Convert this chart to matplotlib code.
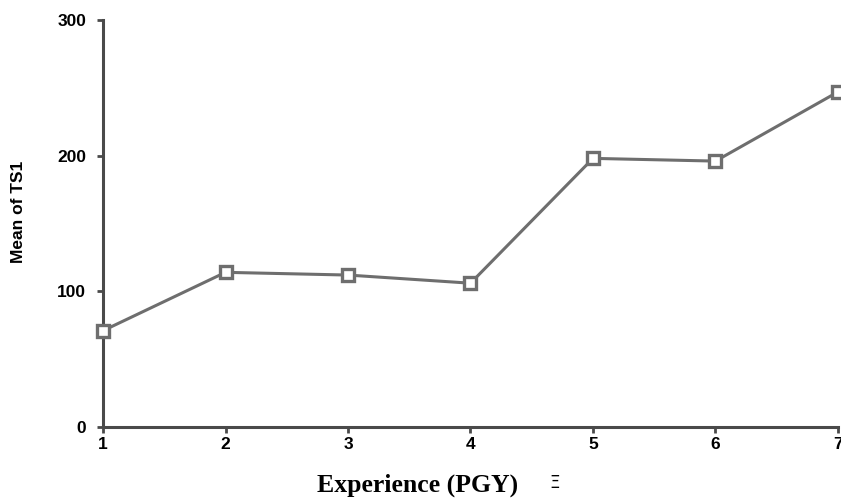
import matplotlib.pyplot as plt

# ------------------- Data ------------------- #

experience = [1, 2, 3, 4, 5, 6, 7]
mean_ts1 = [71, 114, 112, 106, 198, 196, 247]
y_ticks = [0, 100, 200, 300]

# ------------------- Chart ------------------- #

fig = plt.figure(figsize=(8.41, 5.01), dpi=100)
ax = fig.add_axes([0.1225, 0.1477, 0.8739, 0.8124])

line_color = '#6e6e6e'
axis_color = '#4a4a4a'

ax.plot(experience, mean_ts1, color=line_color, linewidth=2.2,
        marker='s', markersize=8, markerfacecolor='white',
        markeredgecolor=line_color, markeredgewidth=2.4, clip_on=False, zorder=3)

ax.set_xlim(1, 7)
ax.set_ylim(0, 300)
ax.set_xticks(experience)
ax.set_yticks(y_ticks)

for side in ['top', 'right']:
    ax.spines[side].set_visible(False)
for side in ['left', 'bottom']:
    ax.spines[side].set_color(axis_color)
    ax.spines[side].set_linewidth(2.2)

ax.tick_params(axis='both', color=axis_color, width=2, length=4,
               labelsize=12.5, labelcolor='black')
ax.tick_params(axis='x', pad=3)
ax.tick_params(axis='y', pad=8)
for lbl in ax.get_xticklabels() + ax.get_yticklabels():
    lbl.set_fontfamily('Liberation Sans')
    lbl.set_fontweight('bold')

fig.text(0.022, 0.578, 'Mean of TS1', rotation=90, ha='center', va='center',
         fontsize=12.5, fontweight='bold', family='Liberation Sans')
fig.text(0.497, 0.031, 'Experience (PGY)', ha='center', va='center',
         fontsize=18.5, fontweight='bold', family='Liberation Serif')
fig.text(0.659, 0.036, '\u039e', ha='center', va='center',
         fontsize=12, family='DejaVu Sans')

fig.savefig('out.png', dpi=100)
